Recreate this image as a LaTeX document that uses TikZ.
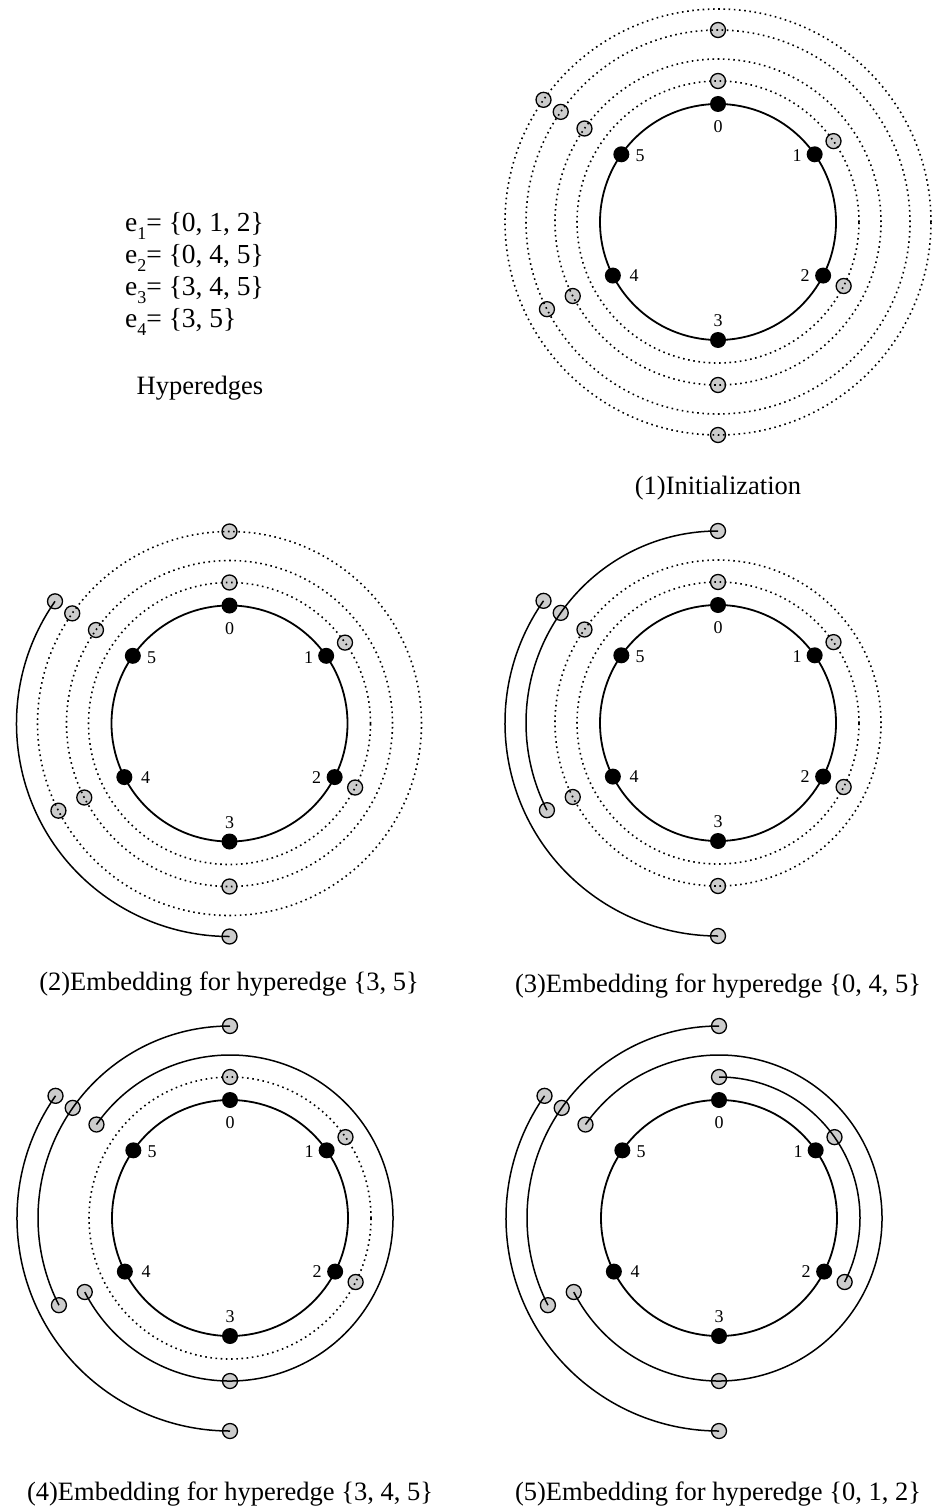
\documentclass[tikz,border=0pt]{standalone}
\usepackage{fontspec}
\setmainfont{Liberation Serif}
\tikzset{
  vtx/.style={circle, fill=black, inner sep=0pt, minimum size=16pt},
  port/.style={circle, draw=black, line width=1.3pt, fill=gray!40, inner sep=0pt, minimum size=15pt},
  innerring/.style={line width=1.8pt},
  ring/.style={line width=1.5pt},
  dotring/.style={line width=1.6pt, dash pattern=on 1.6pt off 3.6pt},
  vlabel/.style={font=\fontsize{18}{18}\selectfont, inner sep=0pt},
  captxt/.style={font=\fontsize{26.5}{32}\selectfont, inner sep=0pt},
  edgetxt/.style={font=\fontsize{27.5}{32}\selectfont, inner sep=0pt},
}
\newcommand\hgsub[1]{\raisebox{-0.32em}{\fontsize{18}{18}\selectfont #1}}
\newcommand\hgbase[3]{%
  \coordinate (#1c) at (#2,#3);
  \begin{scope}[shift={(#2,#3)}]
    \draw[innerring] (#1c) circle[radius=118];
    \node[vtx] (#1v0) at (90:118) {};
    \node[vtx] (#1v1) at (35:118) {};
    \node[vtx] (#1v2) at (-27:118) {};
    \node[vtx] (#1v3) at (-90:118) {};
    \node[vtx] (#1v4) at (207:118) {};
    \node[vtx] (#1v5) at (145:118) {};
    \node[vlabel] (#1l0) at (0,95) {0};
    \node[vlabel] (#1l1) at (79,66) {1};
    \node[vlabel] (#1l2) at (87,-54) {2};
    \node[vlabel] (#1l3) at (0,-99) {3};
    \node[vlabel] (#1l4) at (-84,-54) {4};
    \node[vlabel] (#1l5) at (-78,66) {5};
    \node[port] (#1A0) at (90:141) {};
    \node[port] (#1A1) at (35:141) {};
    \node[port] (#1A2) at (-27:141) {};
    \node[port] (#1B5) at (145:163) {};
    \node[port] (#1B4) at (207:163) {};
    \node[port] (#1B3) at (-90:163) {};
    \node[port] (#1C0) at (90:192) {};
    \node[port] (#1C5) at (145:192) {};
    \node[port] (#1C4) at (207:192) {};
    \node[port] (#1D5) at (145:213) {};
    \node[port] (#1D3) at (-90:213) {};
  \end{scope}}
\begin{document}
\begin{tikzpicture}[x=1pt,y=1pt]
\useasboundingbox (0,0) rectangle (942,-1511);

% hyperedge list
\node[edgetxt, anchor=west] (e1) at (125,-226) {e\hgsub{1}= \{0, 1, 2\}};
\node[edgetxt, anchor=west] (e2) at (125,-258) {e\hgsub{2}= \{0, 4, 5\}};
\node[edgetxt, anchor=west] (e3) at (125,-290) {e\hgsub{3}= \{3, 4, 5\}};
\node[edgetxt, anchor=west] (e4) at (125,-322) {e\hgsub{4}= \{3, 5\}};
\node[captxt] (hyp) at (200,-388) {Hyperedges};

% panel 1
\hgbase{p1}{718}{-222}
\foreach \r in {141,163,192,213} \draw[dotring] (p1c) circle[radius=\r];

% panel 2
\hgbase{p2}{229.5}{-723.5}
\foreach \r in {141,163,192} \draw[dotring] (p2c) circle[radius=\r];
\draw[ring] (p2D5.center) arc[start angle=145, end angle=270, radius=213];

% panel 3
\hgbase{p3}{718}{-723}
\foreach \r in {141,163} \draw[dotring] (p3c) circle[radius=\r];
\draw[ring] (p3C0.center) arc[start angle=90, end angle=207, radius=192];
\draw[ring] (p3D5.center) arc[start angle=145, end angle=270, radius=213];

% panel 4
\hgbase{p4}{230}{-1218}
\draw[dotring] (p4c) circle[radius=141];
\draw[ring] (p4B5.center) arc[start angle=145, end angle=-153, radius=163];
\draw[ring] (p4C0.center) arc[start angle=90, end angle=207, radius=192];
\draw[ring] (p4D5.center) arc[start angle=145, end angle=270, radius=213];

% panel 5
\hgbase{p5}{719}{-1218}
\draw[ring] (p5A0.center) arc[start angle=90, end angle=-27, radius=141];
\draw[ring] (p5B5.center) arc[start angle=145, end angle=-153, radius=163];
\draw[ring] (p5C0.center) arc[start angle=90, end angle=207, radius=192];
\draw[ring] (p5D5.center) arc[start angle=145, end angle=270, radius=213];

% captions
\node[captxt] (cap1) at (718,-488) {(1)Initialization};
\node[captxt] (cap2) at (229,-984) {(2)Embedding for hyperedge \{3, 5\}};
\node[captxt] (cap3) at (718,-986) {(3)Embedding for hyperedge \{0, 4, 5\}};
\node[captxt] (cap4) at (230,-1494) {(4)Embedding for hyperedge \{3, 4, 5\}};
\node[captxt] (cap5) at (718,-1494) {(5)Embedding for hyperedge \{0, 1, 2\}};
\end{tikzpicture}
\end{document}
